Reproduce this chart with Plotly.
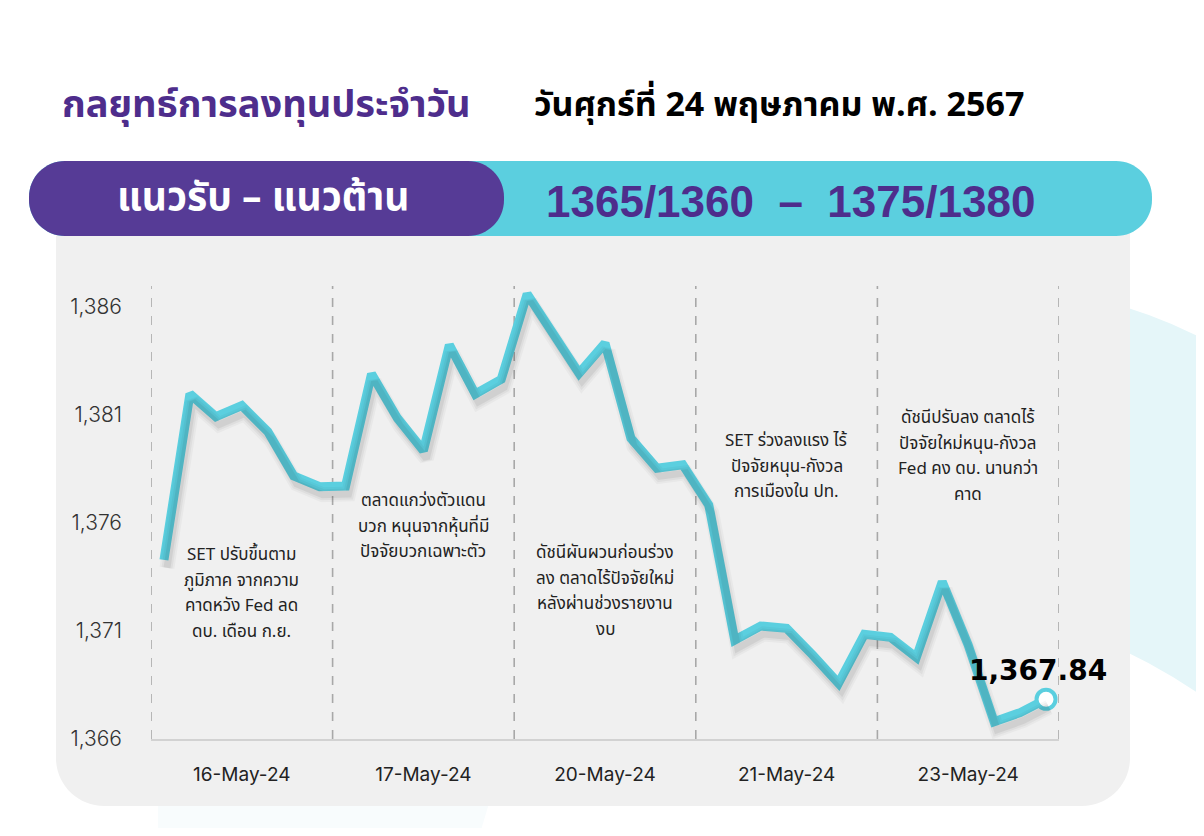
import plotly.graph_objects as go

# ---------------- data ----------------
dates = ["16-May-24", "17-May-24", "20-May-24", "21-May-24", "23-May-24"]
points_per_day = 7
set_index = [
    1374.29, 1381.97, 1380.92, 1381.43, 1380.23, 1378.18, 1377.68,
    1377.71, 1382.90, 1380.85, 1379.35, 1384.24, 1381.97, 1382.65,
    1386.60, 1384.80, 1382.93, 1384.32, 1379.92, 1378.53, 1378.69,
    1376.83, 1370.58, 1371.23, 1371.12, 1369.89, 1368.58, 1370.85,
    1370.71, 1369.78, 1373.28, 1370.35, 1366.80, 1367.22, 1367.84,
]
y_ticks = [1366, 1371, 1376, 1381, 1386]
notes = [
    "SET ปรับขึ้นตาม<br>ภูมิภาค จากความ<br>คาดหวัง Fed ลด<br>ดบ. เดือน ก.ย.",
    "ตลาดแกว่งตัวแดน<br>บวก หนุนจากหุ้นที่มี<br>ปัจจัยบวกเฉพาะตัว",
    "ดัชนีผันผวนก่อนร่วง<br>ลง ตลาดไร้ปัจจัยใหม่<br>หลังผ่านช่วงรายงาน<br>งบ",
    "SET ร่วงลงแรง ไร้<br>ปัจจัยหนุน-กังวล<br>การเมืองใน ปท.",
    "ดัชนีปรับลง ตลาดไร้<br>ปัจจัยใหม่หนุน-กังวล<br>Fed คง ดบ. นานกว่า<br>คาด",
]
title_text = "กลยุทธ์การลงทุนประจำวัน"
date_text = "วันศุกร์ที่ 24 พฤษภาคม พ.ศ. 2567"
band_label = "แนวรับ – แนวต้าน"
band_values = "1365/1360  –  1375/1380"

# ---------------- geometry helpers (page pixels) ----------------
PAGE_W, PAGE_H = 1204, 836
BODY = 8                                   # default html body margin
W, H = PAGE_W - 2 * BODY, PAGE_H - 2 * BODY
L, R, T, B = 151, 1059, 281, 739          # plot area in page pixels
n = len(set_index)
xs = list(range(n))
x_range = [-0.5, n - 0.5]
y_range = [1366, 1387.2]
px_per_x = (R - L) / (x_range[1] - x_range[0])
px_per_y = (B - T) / (y_range[1] - y_range[0])


def fx(p):
    return (p - L) / (R - L)


def fy(p):
    return (B - p) / (B - T)


def P(x, y):
    return f"{fx(x):.5f},{fy(y):.5f}"


def rounded_rect(x0, y0, x1, y1, r_tl, r_tr, r_br, r_bl):
    k = 0.4477
    d = f"M {P(x0 + r_tl, y0)} L {P(x1 - r_tr, y0)} "
    d += f"C {P(x1 - r_tr * k, y0)} {P(x1, y0 + r_tr * k)} {P(x1, y0 + r_tr)} "
    d += f"L {P(x1, y1 - r_br)} "
    d += f"C {P(x1, y1 - r_br * k)} {P(x1 - r_br * k, y1)} {P(x1 - r_br, y1)} "
    d += f"L {P(x0 + r_bl, y1)} "
    d += f"C {P(x0 + r_bl * k, y1)} {P(x0, y1 - r_bl * k)} {P(x0, y1 - r_bl)} "
    d += f"L {P(x0, y0 + r_tl)} "
    d += f"C {P(x0, y0 + r_tl * k)} {P(x0 + r_tl * k, y0)} {P(x0 + r_tl, y0)} Z"
    return d


THAI = "Noto Sans Thai, Kanit, Prompt, Noto Sans, sans-serif"
NUM = "Inter, Lato, Noto Sans, sans-serif"
CYAN = "#5bcfdf"
PURPLE = "#563b96"
PURPLE_TXT = "#4e2d8c"

fig = go.Figure()

# soft shadow (same data, drawn through slightly offset axes)
sdx, sdy = 3, 8
for w, a in [(15, 0.03), (11, 0.04), (7, 0.06)]:
    fig.add_trace(go.Scatter(
        x=xs, y=set_index, mode="lines", xaxis="x2", yaxis="y2",
        line=dict(color=f"rgba(0,0,0,{a})", width=w),
        hoverinfo="skip", showlegend=False))

fig.add_trace(go.Scatter(
    x=xs, y=set_index, mode="lines",
    line=dict(color=CYAN, width=9), showlegend=False))

fig.add_trace(go.Scatter(
    x=[xs[-1]], y=[set_index[-1]], mode="markers",
    marker=dict(size=19, color="white", line=dict(color=CYAN, width=4)),
    showlegend=False, cliponaxis=False))

shapes = []
shapes.append(dict(
    type="path", xref="paper", yref="paper", layer="below",
    path=(f"M {P(1100, 300)} Q {P(1160, 315)} {P(1215, 345)} "
          f"L {P(1215, 705)} Q {P(1160, 665)} {P(1100, 640)} Z"),
    fillcolor="#e5f6f9", line=dict(width=0)))
shapes.append(dict(
    type="path", xref="paper", yref="paper", layer="below",
    path=f"M {P(158, 800)} L {P(490, 800)} L {P(478, 840)} L {P(158, 840)} Z",
    fillcolor="#f8fcfd", line=dict(width=0)))
shapes.append(dict(
    type="path", xref="paper", yref="paper", layer="below",
    path=rounded_rect(56, 215, 1130, 806, 10, 10, 48, 48),
    fillcolor="#f0f0f0", line=dict(width=0)))
shapes.append(dict(
    type="path", xref="paper", yref="paper", layer="below",
    path=rounded_rect(29, 161, 1152, 236, 36, 36, 36, 36),
    fillcolor=CYAN, line=dict(width=0)))
shapes.append(dict(
    type="path", xref="paper", yref="paper", layer="below",
    path=rounded_rect(29, 161, 504, 236, 36, 36, 36, 36),
    fillcolor=PURPLE, line=dict(width=0)))
for d in range(len(dates) + 1):
    xv = d * points_per_day - 0.5
    shapes.append(dict(
        type="line", xref="x", yref="paper", layer="below",
        x0=xv, x1=xv, y0=0, y1=fy(286),
        line=dict(color="#a8a8a8", width=1.6, dash="dash")))

annotations = []
note_top = [555, 501, 553, 441, 418]
line_gap = 25.7
for i, (txt, y0) in enumerate(zip(notes, note_top)):
    for j, line in enumerate(txt.split("<br>")):
        annotations.append(dict(
            x=i * points_per_day + (points_per_day - 1) / 2, y=fy(y0 + j * line_gap),
            xref="x", yref="paper", text=line, showarrow=False,
            xanchor="center", yanchor="middle", align="center",
            font=dict(family=THAI, size=17, color="#222222")))

annotations.append(dict(
    x=xs[-1], y=set_index[-1], xref="x", yref="y",
    text=f"{set_index[-1]:,.2f}", showarrow=False,
    xshift=-8, yshift=29, xanchor="center", yanchor="middle",
    font=dict(family="DejaVu Sans, sans-serif", size=28, color="black", weight="bold")))

annotations += [
    dict(x=fx(60), y=fy(105), xref="paper", yref="paper", text=title_text,
         showarrow=False, xanchor="left", yanchor="middle",
         font=dict(family=THAI, size=38, color=PURPLE_TXT, weight="bold")),
    dict(x=fx(532), y=fy(105), xref="paper", yref="paper", text=date_text,
         showarrow=False, xanchor="left", yanchor="middle",
         font=dict(family=THAI, size=34, color="black", weight="bold")),
    dict(x=fx(263), y=fy(199), xref="paper", yref="paper", text=band_label,
         showarrow=False, xanchor="center", yanchor="middle",
         font=dict(family=THAI, size=39, color="white", weight="bold")),
    dict(x=fx(790), y=fy(201), xref="paper", yref="paper", text=band_values,
         showarrow=False, xanchor="center", yanchor="middle",
         font=dict(family="Liberation Sans, Arial, sans-serif", size=44, color=PURPLE_TXT, weight="bold")),
]

fig.update_layout(
    width=W, height=H,
    margin=dict(l=L - BODY, r=(BODY + W) - R, t=T - BODY, b=(BODY + H) - B, pad=0),
    paper_bgcolor="white", plot_bgcolor="rgba(0,0,0,0)",
    showlegend=False,
    xaxis=dict(range=x_range, tickvals=[d * points_per_day + 3 for d in range(len(dates))],
               ticktext=dates, showgrid=False, zeroline=False, showline=True,
               linecolor="#d2d2d2", linewidth=2, ticks="", ticklabelstandoff=17,
               tickfont=dict(family=NUM, size=19, color="#222222"), fixedrange=True),
    yaxis=dict(range=y_range, tickvals=y_ticks, tickformat=",", showgrid=False,
               zeroline=False, showline=False, ticks="", ticklabelstandoff=28,
               tickfont=dict(family=NUM, size=21, color="#333333", weight=300), fixedrange=True),
    xaxis2=dict(range=[x_range[0] - sdx / px_per_x, x_range[1] - sdx / px_per_x],
                overlaying="x", visible=False, fixedrange=True),
    yaxis2=dict(range=[y_range[0] + sdy / px_per_y, y_range[1] + sdy / px_per_y],
                overlaying="y", visible=False, fixedrange=True),
    shapes=shapes, annotations=annotations,
)

fig.write_html("out.html")
